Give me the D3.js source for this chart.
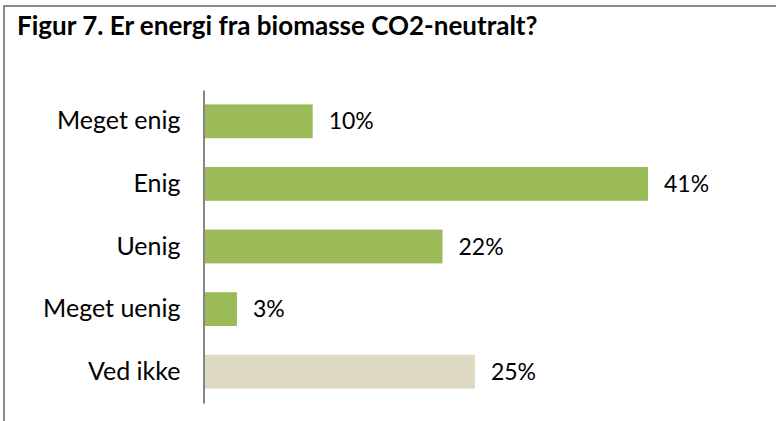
<!DOCTYPE html>
<html>
<head>
<meta charset="utf-8">
<script src="https://cdn.jsdelivr.net/npm/d3@7/dist/d3.min.js"></script>
<style>
  html, body { margin: 0; padding: 0; background: #fff; }
  svg { display: block; }
</style>
</head>
<body>
<svg id="chart" width="776" height="421"></svg>
<script>
const title = "Figur 7. Er energi fra biomasse CO2-neutralt?";
const categories = ["Meget enig", "Enig", "Uenig", "Meget uenig", "Ved ikke"];
const values = [10, 41, 22, 3, 25];
const barColors = ["#9BBB59", "#9BBB59", "#9BBB59", "#9BBB59", "#DDD9C3"];

const svg = d3.select("#chart");
const font = "Lato, 'Open Sans', sans-serif";

// frame (cropped: only left and top edges visible)
svg.append("path")
  .attr("d", "M4,421 V6 H776")
  .attr("fill", "none")
  .attr("stroke", "#8a8a8a")
  .attr("stroke-width", 2);

svg.append("text")
  .attr("x", 17).attr("y", 35)
  .attr("font-family", font)
  .attr("font-weight", "bold")
  .attr("font-size", 26)
  .attr("fill", "#000")
  .text(title);

const x = d3.scaleLinear().domain([0, 41]).range([204.5, 648]);
const y = d3.scaleBand().domain(categories).range([90, 403]).paddingInner(0.46).paddingOuter(0.23);

svg.selectAll("rect.bar").data(categories).enter().append("rect")
  .attr("class", "bar")
  .attr("x", x(0))
  .attr("y", d => y(d))
  .attr("width", (d, i) => x(values[i]) - x(0))
  .attr("height", y.bandwidth())
  .attr("fill", (d, i) => barColors[i]);

const axis = d3.axisLeft(y).tickSize(0).tickPadding(23);
const g = svg.append("g").attr("transform", `translate(${x(0) - 1},0)`).call(axis);
g.select(".domain").attr("stroke", "#868686").attr("stroke-width", 2);
g.selectAll(".tick text")
  .attr("font-family", font)
  .attr("font-size", 25)
  .attr("fill", "#000");

svg.selectAll("text.val").data(categories).enter().append("text")
  .attr("class", "val")
  .attr("x", (d, i) => x(values[i]) + 16)
  .attr("y", d => y(d) + y.bandwidth() / 2)
  .attr("dy", "0.35em")
  .attr("font-family", font)
  .attr("font-size", 23)
  .attr("fill", "#000")
  .text((d, i) => values[i] + "%");
</script>
</body>
</html>
